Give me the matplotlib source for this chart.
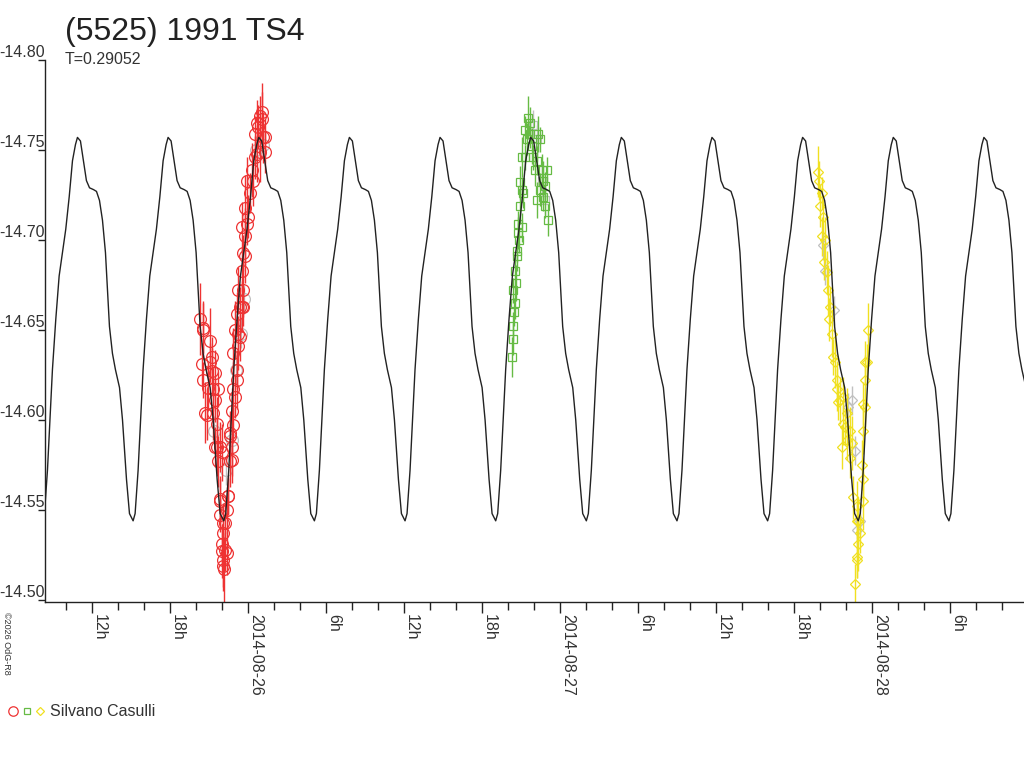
import matplotlib
matplotlib.use("Agg")
import matplotlib.pyplot as plt
import matplotlib.dates as mdates
from matplotlib.legend_handler import HandlerTuple
from datetime import datetime, timedelta

plt.rcParams['font.family'] = ['Liberation Sans', 'DejaVu Sans']

# tiempos en horas desde 2014-08-26 00:00 UT, magnitudes reducidas
red_h = [-3.69, -3.56, -3.44, -3.44, -3.18, -3.05, -2.92, -2.92, -2.79, -2.67,
         -2.54, -2.41, -2.28, -2.28, -2.15, -2.15, -2.02, -2.00, -1.90, -1.90,
         -1.85, -1.77, -1.77, -1.64, -1.52, -1.38, -1.38, -1.25, -1.13, -1.25,
         -1.00, -1.13, -0.87, -1.13, -0.75, -0.75, -1.00, -0.87, -0.48, -0.62,
         -0.75, -0.36, -0.48, -0.36, -0.23, -0.48, 0.02, -0.23, 0.15, -0.10,
         0.28, 0.54, 0.92, 0.54, 1.18, 0.79, 1.05, 0.92, 0.67, 1.08,
         1.31, 1.31, -3.44, -2.79, -2.54, -3.31, -2.67, -2.41, -2.54, -2.15,
         -1.38, -0.87, -0.62, -0.36, -0.23, -0.10, 0.41, 0.67, -2.15, -1.90,
         -2.02, -1.64, -1.90, -1.52, -1.25]
red_mag = [-14.656, -14.631, -14.650, -14.622, -14.603, -14.618, -14.644, -14.632, -14.627, -14.604,
           -14.611, -14.585, -14.617, -14.577, -14.555, -14.547, -14.582, -14.531, -14.537, -14.522,
           -14.517, -14.528, -14.543, -14.550, -14.558, -14.577, -14.593, -14.585, -14.597, -14.605,
           -14.613, -14.617, -14.628, -14.637, -14.641, -14.648, -14.650, -14.659, -14.663, -14.663,
           -14.672, -14.672, -14.683, -14.693, -14.702, -14.707, -14.713, -14.718, -14.726, -14.733,
           -14.739, -14.746, -14.749, -14.759, -14.757, -14.763, -14.771, -14.769, -14.765, -14.767,
           -14.757, -14.749, -14.651, -14.635, -14.626, -14.604, -14.617, -14.598, -14.585, -14.585,
           -14.591, -14.622, -14.646, -14.663, -14.691, -14.709, -14.733, -14.748, -14.556, -14.543,
           -14.527, -14.526, -14.519, -14.558, -14.578]
red_err = [0.020, 0.012, 0.016, 0.010, 0.014, 0.012, 0.018, 0.011, 0.013, 0.015,
           0.012, 0.016, 0.010, 0.014, 0.012, 0.009, 0.016, 0.011, 0.013, 0.015,
           0.018, 0.012, 0.010, 0.013, 0.011, 0.014, 0.012, 0.016, 0.010, 0.013,
           0.012, 0.015, 0.011, 0.014, 0.013, 0.010, 0.016, 0.012, 0.014, 0.011,
           0.013, 0.015, 0.012, 0.010, 0.016, 0.014, 0.012, 0.018, 0.011, 0.013,
           0.015, 0.012, 0.017, 0.010, 0.014, 0.012, 0.016, 0.011, 0.013, 0.015,
           0.010, 0.012, 0.014, 0.011, 0.013, 0.017, 0.012, 0.015, 0.011, 0.014,
           0.012, 0.016, 0.013, 0.011, 0.015, 0.012, 0.014, 0.016, 0.013, 0.011,
           0.015, 0.012, 0.014, 0.010, 0.013]

green_h = [20.28, 20.41, 20.54, 20.41, 20.54, 20.67, 20.67, 20.79, 20.79, 21.05,
           20.92, 21.05, 20.92, 21.18, 21.05, 21.31, 21.44, 21.31, 21.56, 21.69,
           21.69, 21.82, 21.95, 22.08, 22.21, 22.33, 22.46, 22.59, 22.72, 22.85,
           22.98, 22.46, 22.21, 22.72, 23.10, 22.85, 20.35, 20.48, 20.60, 20.85]
green_mag = [-14.635, -14.652, -14.665, -14.672, -14.683, -14.691, -14.694, -14.704, -14.709, -14.707,
             -14.719, -14.728, -14.732, -14.726, -14.746, -14.746, -14.756, -14.761, -14.768, -14.765,
             -14.759, -14.752, -14.746, -14.739, -14.744, -14.759, -14.756, -14.739, -14.733, -14.730,
             -14.739, -14.728, -14.722, -14.724, -14.711, -14.719, -14.645, -14.660, -14.676, -14.700]
green_err = [0.011, 0.008, 0.009, 0.007, 0.010, 0.008, 0.006, 0.009, 0.007, 0.008,
             0.010, 0.007, 0.009, 0.008, 0.011, 0.007, 0.009, 0.008, 0.012, 0.009,
             0.008, 0.010, 0.007, 0.009, 0.008, 0.010, 0.007, 0.009, 0.011, 0.008,
             0.007, 0.009, 0.010, 0.008, 0.009, 0.007, 0.009, 0.008, 0.010, 0.007]

yellow_h = [43.87, 43.92, 44.13, 44.00, 44.23, 44.38, 44.15, 44.52, 44.31, 44.62,
            44.77, 44.90, 44.69, 45.02, 45.15, 45.28, 45.30, 45.41, 45.54, 45.79,
            45.77, 46.05, 45.92, 46.05, 46.31, 45.67, 46.44, 46.31, 46.56, 46.82,
            46.82, 46.95, 47.08, 46.95, 46.82, 46.82, 46.69, 47.21, 47.33, 47.33,
            47.33, 47.46, 47.33, 47.46, 47.59, 47.46, 47.72]
yellow_mag = [-14.738, -14.733, -14.726, -14.719, -14.713, -14.700, -14.702, -14.682, -14.688, -14.672,
              -14.663, -14.648, -14.656, -14.635, -14.632, -14.622, -14.617, -14.610, -14.611, -14.613,
              -14.598, -14.604, -14.596, -14.589, -14.594, -14.585, -14.587, -14.579, -14.557, -14.552,
              -14.544, -14.544, -14.537, -14.531, -14.524, -14.522, -14.509, -14.575, -14.567, -14.555,
              -14.594, -14.607, -14.609, -14.622, -14.632, -14.632, -14.650]
yellow_err = [0.014, 0.011, 0.009, 0.012, 0.010, 0.013, 0.011, 0.012, 0.010, 0.014,
              0.011, 0.013, 0.012, 0.010, 0.014, 0.011, 0.012, 0.010, 0.013, 0.011,
              0.012, 0.014, 0.010, 0.011, 0.013, 0.012, 0.015, 0.011, 0.012, 0.014,
              0.010, 0.013, 0.011, 0.015, 0.012, 0.010, 0.011, 0.014, 0.012, 0.016,
              0.013, 0.011, 0.012, 0.014, 0.010, 0.012, 0.015]

gray_c_h = [-0.54, -0.31, -0.92, 0.62, 1.15, -1.23, -1.69, -2.62]
gray_c_mag = [-14.648, -14.667, -14.628, -14.750, -14.753, -14.589, -14.572, -14.594]
gray_s_h = [22.23, 22.62, 21.92, 22.85]
gray_s_mag = [-14.756, -14.733, -14.764, -14.722]
gray_d_h = [44.38, 45.08, 46.46, 46.15, 46.69, 46.85, 44.23, 47.08]
gray_d_mag = [-14.683, -14.661, -14.611, -14.607, -14.583, -14.539, -14.697, -14.544]

# curva del modelo: una rotacion, fase desde el minimo
periodo = 0.29052            # dias
epoca_min = 12.08            # horas desde 2014-08-26 00:00
fase = [0.000, 0.022, 0.055, 0.088, 0.110, 0.147, 0.184, 0.221, 0.257, 0.295,
        0.331, 0.364, 0.386, 0.419, 0.452, 0.485, 0.519, 0.563, 0.596, 0.629,
        0.662, 0.695, 0.739, 0.772, 0.805, 0.850, 0.883, 0.927, 0.960]
fase_mag = [-14.544, -14.548, -14.572, -14.605, -14.628, -14.656, -14.680, -14.693, -14.706, -14.724,
            -14.744, -14.753, -14.757, -14.755, -14.744, -14.733, -14.729, -14.728, -14.727, -14.722,
            -14.711, -14.693, -14.652, -14.637, -14.628, -14.618, -14.600, -14.567, -14.548]

base = datetime(2014, 8, 26)


def a_fecha(horas):
    return [mdates.date2num(base + timedelta(hours=h)) for h in horas]


modelo_h = []
modelo_mag = []
for k in range(-4, 9):
    for f, m in zip(fase, fase_mag):
        modelo_h.append(epoca_min + (k + f) * periodo * 24)
        modelo_mag.append(m)

fig = plt.figure(figsize=(10.24, 7.68), dpi=100)
ax = fig.add_axes([45 / 1024, 166 / 768, 979 / 1024, 542 / 768])

grafico = [
    (gray_c_h, gray_c_mag, None, '#c0c0c0', 'o', 8.5),
    (gray_s_h, gray_s_mag, None, '#c0c0c0', 's', 6),
    (gray_d_h, gray_d_mag, None, '#c0c0c0', 'D', 5.5),
    (red_h, red_mag, red_err, '#ee3333', 'o', 8.5),
    (green_h, green_mag, green_err, '#66bb44', 's', 6),
    (yellow_h, yellow_mag, yellow_err, '#f0e020', 'D', 5.5),
]
handles = []
for hs, ms, es, col, mk, sz in grafico:
    xs = a_fecha(hs)
    if es is not None:
        ax.errorbar(xs, ms, yerr=es, fmt='none', ecolor=col, elinewidth=1.0, capsize=0, zorder=2)
    else:
        ax.errorbar(xs, ms, yerr=0.008, fmt='none', ecolor=col, elinewidth=1.0, capsize=0, zorder=1)
    ln, = ax.plot(xs, ms, linestyle='none', marker=mk, markersize=sz, mfc='none',
                  mec=col, mew=0.9, zorder=2)
    if es is not None:
        handles.append(ln)

ax.plot(a_fecha(modelo_h), modelo_mag, color='#222222', linewidth=1.0, zorder=5)

ax.set_xlim(a_fecha([-15.615, 59.69]))
ax.set_ylim(-14.4989, -14.80)
ax.set_yticks([-14.80, -14.75, -14.70, -14.65, -14.60, -14.55, -14.50])
ax.set_yticklabels(['%.2f' % v for v in [-14.80, -14.75, -14.70, -14.65, -14.60, -14.55, -14.50]])

for lado in ['top', 'right']:
    ax.spines[lado].set_visible(False)
for lado in ['left', 'bottom']:
    ax.spines[lado].set_color('#222222')
    ax.spines[lado].set_linewidth(1.0)

ax.xaxis.set_major_locator(mdates.HourLocator(byhour=[0, 6, 12, 18]))
ax.xaxis.set_minor_locator(mdates.HourLocator(byhour=range(0, 24, 2)))


def etiqueta(x, pos):
    d = mdates.num2date(x)
    if d.hour == 0:
        return d.strftime('%Y-%m-%d')
    return '%dh' % d.hour


ax.xaxis.set_major_formatter(plt.FuncFormatter(etiqueta))
ax.tick_params(axis='x', which='major', length=8, width=1, color='#222222',
               labelsize=11.5, labelcolor='#333333', pad=1)
ax.tick_params(axis='x', which='minor', length=5.5, width=1, color='#222222')
ax.tick_params(axis='y', length=5, width=1, color='#222222', labelsize=11.5,
               labelcolor='#333333', pad=-5)
for t in ax.get_xticklabels():
    t.set_rotation(270)
    t.set_ha('left')
    t.set_va('top')
for t in ax.get_yticklabels():
    t.set_va('bottom')

fig.text(65 / 1024, 1 - 40 / 768, '(5525) 1991 TS4', fontsize=23, color='#222222', va='baseline')
fig.text(65 / 1024, 1 - 64 / 768, 'T=0.29052', fontsize=11.5, color='#333333', va='baseline')
fig.text(2 / 1024, 1 - 612 / 768, '\u00a92026 OdG-R8', fontsize=6.5, color='#333333',
         rotation=270, ha='left', va='top')

fig.legend([tuple(handles)], ['Silvano Casulli'],
           handler_map={tuple: HandlerTuple(ndivide=None, pad=0.25)},
           loc='center left', bbox_to_anchor=(-0.006, 1 - 712 / 768), frameon=False,
           fontsize=11.5, handlelength=2.3, handletextpad=0.3, labelcolor='#333333',
           markerscale=0.8)

fig.savefig('out.png', dpi=100)
